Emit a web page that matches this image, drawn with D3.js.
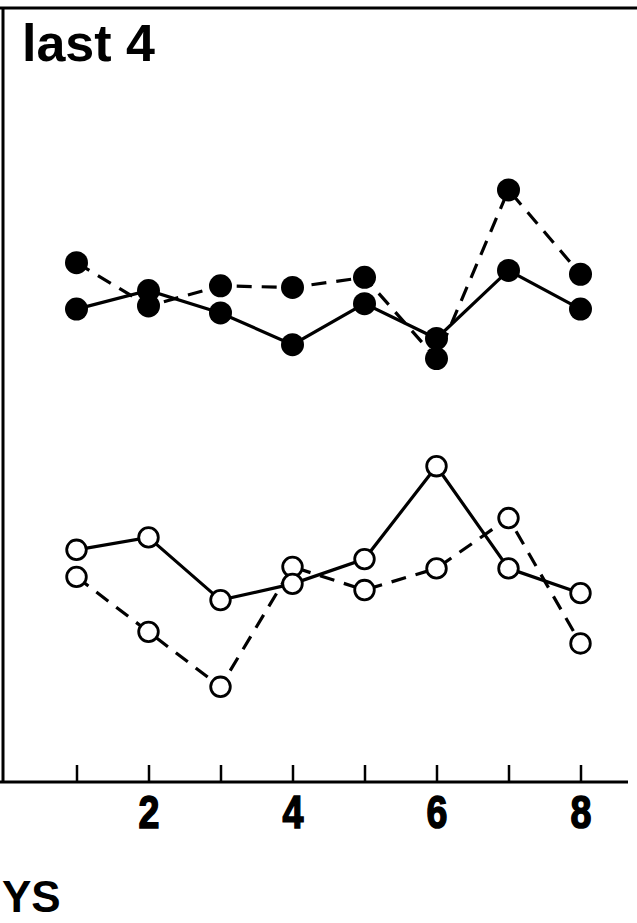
<!DOCTYPE html>
<html>
<head>
<meta charset="utf-8">
<script src="https://cdn.jsdelivr.net/npm/d3@7"></script>
<style>
  html, body { margin: 0; padding: 0; background: #fff; }
  svg { display: block; }
</style>
</head>
<body>
<svg id="chart" width="637" height="923"></svg>
<script>
// Sessions along the x axis
const sessions = [1, 2, 3, 4, 5, 6, 7, 8];
const tickLabels = ["", "2", "", "4", "", "6", "", "8"];

// Filled-circle series (upper pair)
const filledSolid  = [61.1, 63.5, 60.6, 56.5, 61.8, 57.3, 66.1, 61.1];
const filledDashed = [67.1, 61.5, 64.1, 63.9, 65.2, 54.7, 76.5, 65.6];

// Open-circle series (lower pair)
const openSolid  = [30.0, 31.6, 23.5, 25.6, 28.8, 40.8, 27.6, 24.4];
const openDashed = [26.5, 19.4, 12.3, 27.8, 24.8, 27.6, 34.1, 17.9];

const panelTitle = "last 4";
const axisCaption = "YS";

const svg = d3.select("#chart");
const ink = "#000";

const x = d3.scaleLinear().domain([1, 8]).range([76.5, 580.5]);
const y = d3.scaleLinear().domain([0, 100]).range([782, 8]);

// Frame: top rule, left rule, bottom rule
svg.append("line").attr("x1", 0).attr("x2", 637).attr("y1", 8).attr("y2", 8)
  .attr("stroke", ink).attr("stroke-width", 3);
svg.append("line").attr("x1", 3).attr("x2", 3).attr("y1", 7).attr("y2", 783)
  .attr("stroke", ink).attr("stroke-width", 3);
svg.append("line").attr("x1", 0).attr("x2", 628).attr("y1", 782).attr("y2", 782)
  .attr("stroke", ink).attr("stroke-width", 3);

// Bottom axis with upward ticks
const axis = d3.axisBottom(x)
  .tickValues(sessions)
  .tickSizeInner(-17)
  .tickSizeOuter(0)
  .tickPadding(0)
  .tickFormat((d, i) => tickLabels[i]);

const gAxis = svg.append("g").attr("transform", "translate(0,782)").call(axis);
gAxis.select(".domain").remove();
gAxis.selectAll(".tick line").attr("stroke", ink).attr("stroke-width", 2.5);
gAxis.selectAll(".tick text")
  .attr("y", 0)
  .attr("dy", 46)
  .attr("fill", ink)
  .attr("stroke", ink)
  .attr("stroke-width", 1.6)
  .attr("font-family", "'Liberation Sans', Arial, sans-serif")
  .attr("font-weight", "bold")
  .attr("font-size", 47)
  .attr("transform", "scale(0.8,1)");

// Series lines
const line = d3.line().x((d, i) => x(sessions[i])).y(d => y(d));

function drawLine(values, dashed) {
  svg.append("path")
    .datum(values)
    .attr("d", line)
    .attr("fill", "none")
    .attr("stroke", ink)
    .attr("stroke-width", 3.2)
    .attr("stroke-dasharray", dashed ? "15,10" : null);
}

drawLine(filledSolid, false);
drawLine(filledDashed, true);
drawLine(openSolid, false);
drawLine(openDashed, true);

// Markers
function drawMarkers(values, filled) {
  svg.append("g").selectAll("circle")
    .data(values)
    .join("circle")
    .attr("cx", (d, i) => x(sessions[i]))
    .attr("cy", d => y(d))
    .attr("r", filled ? 11.5 : 9.8)
    .attr("fill", filled ? ink : "#fff")
    .attr("stroke", ink)
    .attr("stroke-width", filled ? 0 : 2.8);
}

drawMarkers(filledDashed, true);
drawMarkers(filledSolid, true);
drawMarkers(openDashed, false);
drawMarkers(openSolid, false);

// Panel title and axis caption
svg.append("text")
  .attr("x", 22).attr("y", 61)
  .attr("font-family", "'Liberation Sans', Arial, sans-serif")
  .attr("font-weight", "bold")
  .attr("font-size", 52)
  .attr("fill", ink)
  .text(panelTitle);

svg.append("text")
  .attr("x", 2).attr("y", 912)
  .attr("font-family", "'Liberation Sans', Arial, sans-serif")
  .attr("font-weight", "bold")
  .attr("font-size", 44)
  .attr("fill", ink)
  .text(axisCaption);
</script>
</body>
</html>
